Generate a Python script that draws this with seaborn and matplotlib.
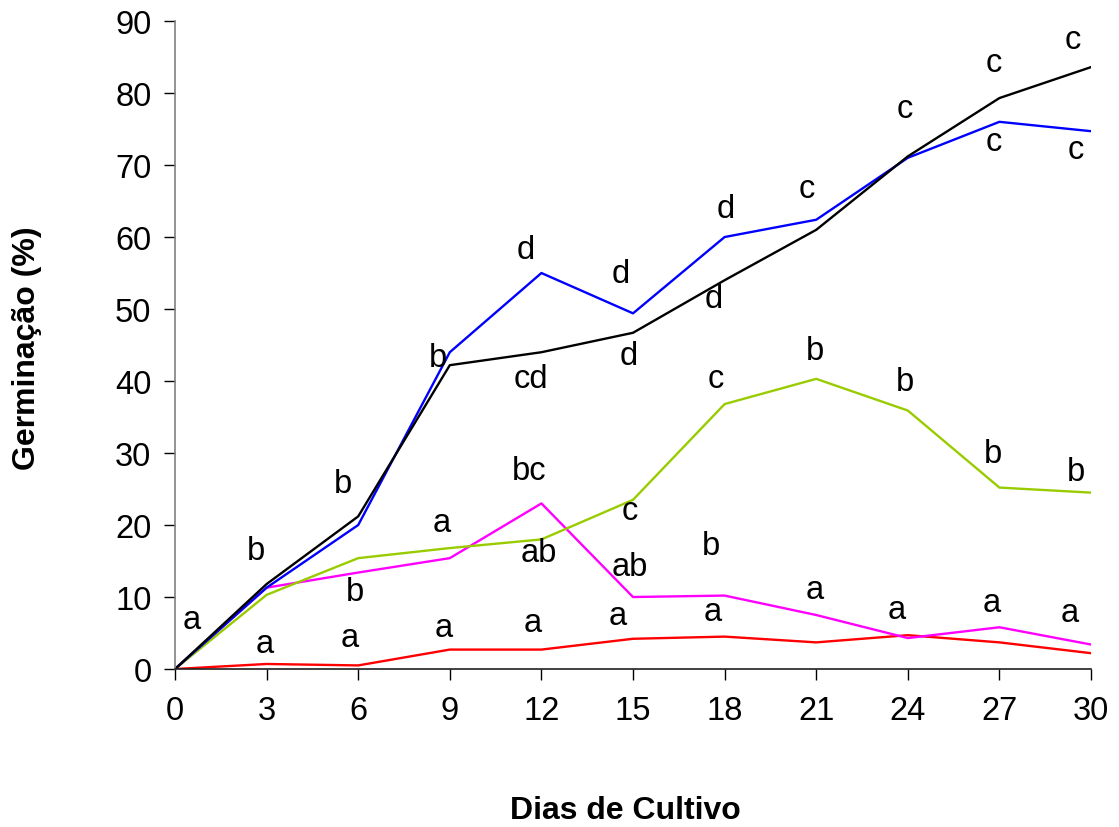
import numpy as np
import pandas as pd
import matplotlib
matplotlib.use("Agg")
import matplotlib.pyplot as plt
import seaborn as sns

# Germination over culture days, one series per treatment
dias = [0, 3, 6, 9, 12, 15, 18, 21, 24, 27, 30]
preto = [0, 11.8, 21.2, 42.2, 44.0, 46.7, 54.0, 61.0, 71.2, 79.3, 83.6]
azul = [0, 11.3, 20.0, 44.0, 55.0, 49.4, 60.0, 62.4, 71.0, 76.0, 74.7]
verde = [0, 10.3, 15.4, 16.8, 18.0, 23.5, 36.8, 40.3, 35.9, 25.2, 24.5]
magenta = [0, 11.3, 13.4, 15.4, 23.0, 10.0, 10.2, 7.5, 4.3, 5.8, 3.4]
vermelho = [0, 0.7, 0.5, 2.7, 2.7, 4.2, 4.5, 3.7, 4.7, 3.7, 2.2]

series = {"preto": preto, "azul": azul, "verde": verde,
          "magenta": magenta, "vermelho": vermelho}
cores = {"preto": "#000000", "azul": "#0000FF", "verde": "#99CC00",
         "magenta": "#FF00FF", "vermelho": "#FF0000"}

# significance letters (x, y, text)
letras_x = [0.56, 2.65, 2.95, 5.5, 5.9, 5.73, 8.6, 8.75, 8.8,
            11.5, 11.66, 11.6, 11.9, 11.7,
            14.6, 14.87, 14.9, 14.9, 14.5,
            18.05, 17.65, 17.7, 17.55, 17.6,
            20.7, 20.96, 20.96,
            23.9, 23.9, 23.65,
            26.8, 26.8, 26.8, 26.76,
            29.4, 29.5, 29.5, 29.3]
letras_y = [6.9, 16.4, 3.5, 25.7, 10.8, 4.4, 43.3, 20.4, 5.8,
            58.2, 40.4, 27.6, 16.2, 6.5,
            55.0, 43.5, 22.0, 14.3, 7.4,
            63.9, 51.5, 40.3, 17.2, 8.0,
            66.7, 44.2, 11.1,
            77.8, 39.9, 8.3,
            84.3, 73.2, 29.9, 9.3,
            87.5, 72.2, 27.4, 7.9]
letras = ["a", "b", "a", "b", "b", "a", "b", "a", "a",
          "d", "cd", "bc", "ab", "a",
          "d", "d", "c", "ab", "a",
          "d", "d", "c", "b", "a",
          "c", "b", "a",
          "c", "b", "a",
          "c", "c", "b", "a",
          "c", "c", "b", "a"]

df = pd.DataFrame([(d, v, nome) for nome, vals in series.items()
                   for d, v in zip(dias, vals)],
                  columns=["dia", "germ", "serie"])

sns.set_style("white")
plt.rcParams["font.family"] = ["Liberation Sans", "DejaVu Sans"]
plt.rcParams["text.color"] = "black"
plt.rcParams["axes.labelcolor"] = "black"
plt.rcParams["xtick.color"] = "black"
plt.rcParams["ytick.color"] = "black"

fig = plt.figure(figsize=(11.19, 8.28), dpi=100)
ax = fig.add_axes([0.1564, 0.1908, 0.975 - 0.1564, 0.9734 - 0.1908])

sns.lineplot(data=df, x="dia", y="germ", hue="serie", palette=cores,
             hue_order=["vermelho", "magenta", "verde", "azul", "preto"],
             linewidth=1.7, legend=False, ax=ax, sort=False)

for x, y, t in zip(letras_x, letras_y, letras):
    ax.text(x, y, t, ha="center", va="center", fontsize=23.5)

ax.set_xlim(0, 30)
ax.set_ylim(0, 90)
ax.set_xticks(dias)
ax.set_yticks(range(0, 91, 10))
ax.tick_params(axis="both", labelsize=23.5, length=8, width=1,
               direction="out", bottom=True, left=True)
ax.tick_params(axis="x", pad=11)
ax.tick_params(axis="y", pad=9)

for s in ["top", "right"]:
    ax.spines[s].set_visible(False)
ax.spines["left"].set_color("#808080")
ax.spines["bottom"].set_color("#202020")
ax.spines["left"].set_linewidth(1.2)
ax.spines["bottom"].set_linewidth(1.2)

ax.set_xlabel("Dias de Cultivo", fontsize=23, fontweight="bold", va="center")
ax.set_ylabel("Germinação (%)", fontsize=23, fontweight="bold", va="center")
ax.xaxis.set_label_coords(0.492, -0.2176)
ax.yaxis.set_label_coords(-0.1616, 0.497)

plt.savefig("out.png", dpi=100)
